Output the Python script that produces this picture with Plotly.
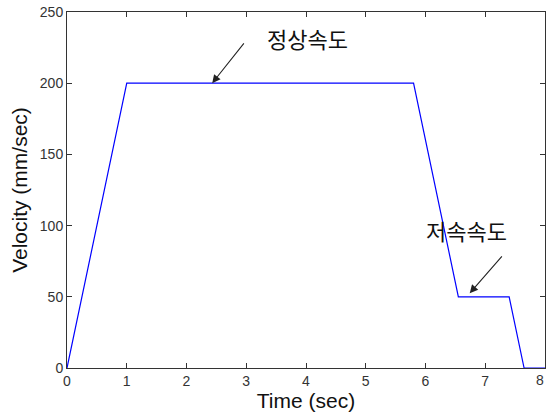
import plotly.graph_objects as go

time_sec = [0, 1, 5.8, 6.55, 7.4, 7.65, 8]
velocity = [0, 200, 200, 50, 50, 0, 0]
x_ticks = [0, 1, 2, 3, 4, 5, 6, 7, 8]
y_ticks = [0, 50, 100, 150, 200, 250]

fig = go.Figure()
fig.add_trace(go.Scatter(x=time_sec, y=velocity, mode="lines",
                         line=dict(color="#0000ff", width=1.2), showlegend=False))

tickfont = dict(family="Liberation Sans", size=14, color="#333333")
axis_common = dict(showline=True, linecolor="#333333", linewidth=1, mirror="ticks",
                   ticks="inside", ticklen=5, tickcolor="#333333", showgrid=False,
                   zeroline=False, automargin=False, tickfont=tickfont)

fig.update_xaxes(range=[0, 8], tickvals=x_ticks, title=dict(text="Time (sec)", standoff=0,
                 font=dict(family="Liberation Sans", size=21, color="#111111")), **axis_common)
fig.update_yaxes(range=[0, 250], tickvals=y_ticks, title=dict(text="Velocity (mm/sec)", standoff=6,
                 font=dict(family="Liberation Sans", size=21, color="#111111")), **axis_common)

# last tick label sits at the right edge of the figure
fig.add_annotation(x=x_ticks[-1], y=0, xref="x", yref="paper", yanchor="top", xanchor="right",
                   yshift=-2, xshift=1, text=str(x_ticks[-1]), showarrow=False, font=tickfont)

kfont = dict(family="Noto Sans CJK KR", size=22, color="#111111")
fig.add_annotation(x=4.02, y=231.5, text="정상속도", showarrow=False, font=kfont)
fig.add_annotation(x=2.43, y=200, ax=2.98, ay=229, xref="x", yref="y", axref="x", ayref="y",
                   text="", showarrow=True, arrowhead=2, arrowsize=1.5, arrowwidth=1.1, arrowcolor="#222222")
fig.add_annotation(x=6.68, y=97, text="저속속도", showarrow=False, font=kfont)
fig.add_annotation(x=6.74, y=52.5, ax=7.30, ay=79.4, xref="x", yref="y", axref="x", ayref="y",
                   text="", showarrow=True, arrowhead=2, arrowsize=1.5, arrowwidth=1.1, arrowcolor="#222222")

fig.update_layout(width=546, height=417, margin=dict(l=67, r=1, t=12, b=49),
                  plot_bgcolor="white", paper_bgcolor="white")
fig.write_html("out.html", config={"displayModeBar": False},
               post_script="document.body.style.margin='0px';document.body.style.overflow='hidden';")
